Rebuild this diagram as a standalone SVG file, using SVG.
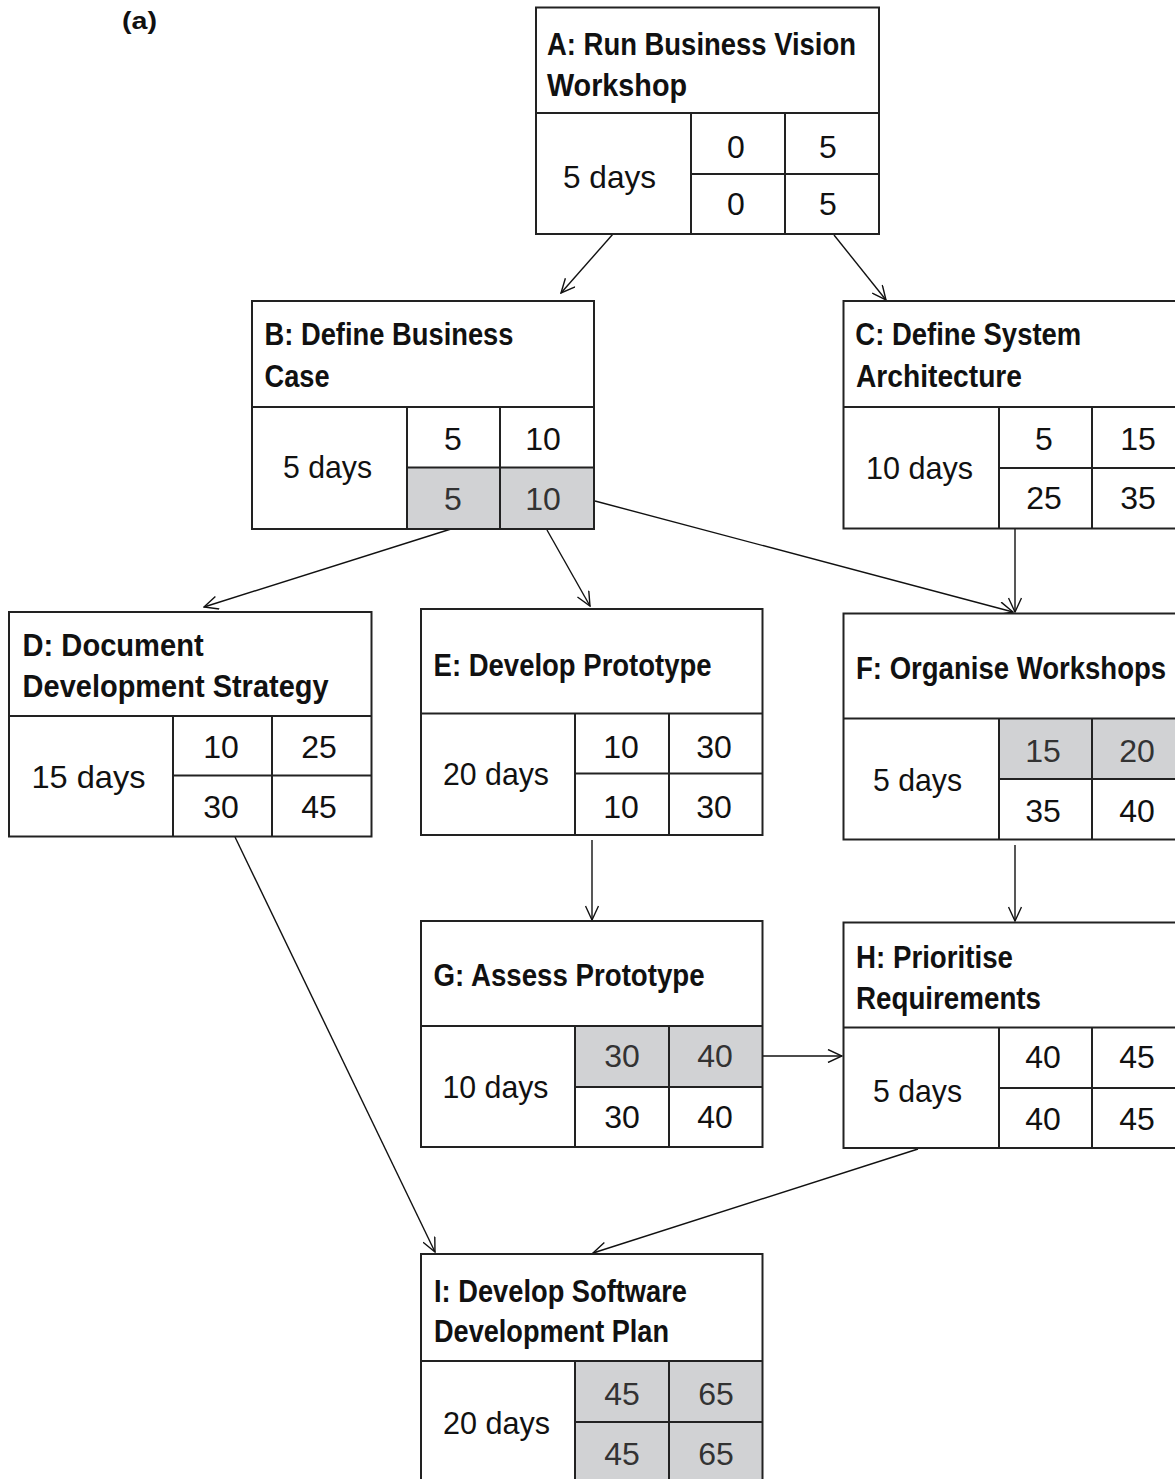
<svg xmlns="http://www.w3.org/2000/svg" width="1175" height="1479" viewBox="0 0 1175 1479">
<style>
.bg{fill:#fff}
.gr{fill:#d1d2d4}
.ol{fill:none;stroke:#222;stroke-width:2}
.t{font-family:"Liberation Sans",Arial,sans-serif;font-weight:bold;font-size:32px;fill:#111}
.d{font-family:"Liberation Sans",Arial,sans-serif;font-size:32px;fill:#111}
.n{font-family:"Liberation Sans",Arial,sans-serif;font-size:32px;fill:#111;text-anchor:middle}
.ng{fill:#333}
.c{fill:none;stroke:#111;stroke-width:1.4;marker-end:url(#arr)}
</style>
<defs>
<marker id="arr" viewBox="0 0 16 14" refX="15" refY="7" markerWidth="16" markerHeight="14" markerUnits="userSpaceOnUse" orient="auto">
<path d="M1,0.5 L15,7 L1,13.5" fill="none" stroke="#111" stroke-width="1.4"/>
</marker>
</defs>
<rect x="0" y="0" width="1175" height="1479" fill="#fff"/>
<text x="122" y="29" class="t" style="font-size:24px" textLength="35" lengthAdjust="spacingAndGlyphs">(a)</text>

<g id="connectors">
<line class="c" x1="613" y1="234" x2="561" y2="293"/>
<line class="c" x1="834" y1="235" x2="886" y2="300"/>
<line class="c" x1="451" y1="529" x2="204" y2="607"/>
<line class="c" x1="547" y1="530" x2="590" y2="606"/>
<line class="c" x1="595" y1="501" x2="1013" y2="612"/>
<line class="c" x1="1015" y1="528" x2="1015" y2="612"/>
<line class="c" x1="235" y1="837" x2="435" y2="1252"/>
<line class="c" x1="592" y1="840" x2="592" y2="920"/>
<line class="c" x1="1015" y1="845" x2="1015" y2="921"/>
<line class="c" x1="763" y1="1056" x2="842" y2="1056"/>
<line class="c" x1="918" y1="1149" x2="593" y2="1253"/>
</g>

<g id="nodeA">
<rect class="bg" x="536" y="7.5" width="343" height="226.5"/>
<rect class="ol" x="536" y="7.5" width="343" height="226.5"/>
<path class="ol" d="M536,113 H879 M691,113 V234 M785,113 V234 M691,174 H879"/>
<text class="t" x="547" y="55" textLength="309" lengthAdjust="spacingAndGlyphs">A: Run Business Vision</text>
<text class="t" x="547" y="96" textLength="140" lengthAdjust="spacingAndGlyphs">Workshop</text>
<text class="d" x="563" y="188" textLength="93" lengthAdjust="spacingAndGlyphs">5 days</text>
<text class="n" x="736" y="158">0</text>
<text class="n" x="828" y="158">5</text>
<text class="n" x="736" y="215">0</text>
<text class="n" x="828" y="215">5</text>
</g>

<g id="nodeB">
<rect class="bg" x="252" y="301" width="342" height="228"/>
<rect class="gr" x="407" y="467.5" width="187" height="61.5"/>
<rect class="ol" x="252" y="301" width="342" height="228"/>
<path class="ol" d="M252,407 H594 M407,407 V529 M500,407 V529 M407,467.5 H594"/>
<text class="t" x="264.5" y="345" textLength="249" lengthAdjust="spacingAndGlyphs">B: Define Business</text>
<text class="t" x="264.5" y="387" textLength="65" lengthAdjust="spacingAndGlyphs">Case</text>
<text class="d" x="283" y="478" textLength="89" lengthAdjust="spacingAndGlyphs">5 days</text>
<text class="n" x="453" y="450">5</text>
<text class="n" x="543" y="450">10</text>
<text class="n ng" x="453" y="510">5</text>
<text class="n ng" x="543" y="510">10</text>
</g>

<g id="nodeC">
<rect class="bg" x="843.5" y="301" width="341.5" height="227.5"/>
<rect class="ol" x="843.5" y="301" width="341.5" height="227.5"/>
<path class="ol" d="M843.5,407 H1185 M999,407 V528.5 M1092,407 V528.5 M999,468 H1185"/>
<text class="t" x="855.3" y="345" textLength="226" lengthAdjust="spacingAndGlyphs">C: Define System</text>
<text class="t" x="856" y="387" textLength="166" lengthAdjust="spacingAndGlyphs">Architecture</text>
<text class="d" x="866" y="479" textLength="107" lengthAdjust="spacingAndGlyphs">10 days</text>
<text class="n" x="1044" y="450">5</text>
<text class="n" x="1138" y="450">15</text>
<text class="n" x="1044" y="509">25</text>
<text class="n" x="1138" y="509">35</text>
</g>

<g id="nodeD">
<rect class="bg" x="9" y="612" width="362.5" height="224.5"/>
<rect class="ol" x="9" y="612" width="362.5" height="224.5"/>
<path class="ol" d="M9,716 H371.5 M173,716 V836.5 M272,716 V836.5 M173,775.5 H371.5"/>
<text class="t" x="22.6" y="656" textLength="181" lengthAdjust="spacingAndGlyphs">D: Document</text>
<text class="t" x="22.6" y="697" textLength="306" lengthAdjust="spacingAndGlyphs">Development Strategy</text>
<text class="d" x="31.5" y="788" textLength="114" lengthAdjust="spacingAndGlyphs">15 days</text>
<text class="n" x="221" y="758">10</text>
<text class="n" x="319" y="758">25</text>
<text class="n" x="221" y="818">30</text>
<text class="n" x="319" y="818">45</text>
</g>

<g id="nodeE">
<rect class="bg" x="421" y="609" width="341.5" height="226"/>
<rect class="ol" x="421" y="609" width="341.5" height="226"/>
<path class="ol" d="M421,713.5 H762.5 M575,713.5 V835 M669,713.5 V835 M575,773.5 H762.5"/>
<text class="t" x="433.6" y="676" textLength="278" lengthAdjust="spacingAndGlyphs">E: Develop Prototype</text>
<text class="d" x="443" y="785" textLength="106" lengthAdjust="spacingAndGlyphs">20 days</text>
<text class="n" x="621" y="758">10</text>
<text class="n" x="714" y="758">30</text>
<text class="n" x="621" y="818">10</text>
<text class="n" x="714" y="818">30</text>
</g>

<g id="nodeF">
<rect class="bg" x="843.5" y="613.5" width="341.5" height="226"/>
<rect class="gr" x="999" y="718.5" width="186" height="60.5"/>
<rect class="ol" x="843.5" y="613.5" width="341.5" height="226"/>
<path class="ol" d="M843.5,718.5 H1185 M999,718.5 V839.5 M1092,718.5 V839.5 M999,779 H1185"/>
<text class="t" transform="translate(856,679) scale(0.861,1)" x="0" y="0">F: Organise Workshops</text>
<text class="d" x="873" y="791" textLength="89" lengthAdjust="spacingAndGlyphs">5 days</text>
<text class="n ng" x="1043" y="762">15</text>
<text class="n ng" x="1137" y="762">20</text>
<text class="n" x="1043" y="822">35</text>
<text class="n" x="1137" y="822">40</text>
</g>

<g id="nodeG">
<rect class="bg" x="421" y="921" width="341.5" height="226"/>
<rect class="gr" x="575" y="1026" width="187.5" height="61"/>
<rect class="ol" x="421" y="921" width="341.5" height="226"/>
<path class="ol" d="M421,1026 H762.5 M575,1026 V1147 M669,1026 V1147 M575,1087 H762.5"/>
<text class="t" x="433.6" y="986" textLength="271" lengthAdjust="spacingAndGlyphs">G: Assess Prototype</text>
<text class="d" x="442.5" y="1098" textLength="106" lengthAdjust="spacingAndGlyphs">10 days</text>
<text class="n ng" x="622" y="1067">30</text>
<text class="n ng" x="715" y="1067">40</text>
<text class="n" x="622" y="1128">30</text>
<text class="n" x="715" y="1128">40</text>
</g>

<g id="nodeH">
<rect class="bg" x="843.5" y="922.5" width="341.5" height="225.5"/>
<rect class="ol" x="843.5" y="922.5" width="341.5" height="225.5"/>
<path class="ol" d="M843.5,1027.5 H1185 M999,1027.5 V1148 M1092,1027.5 V1148 M999,1088 H1185"/>
<text class="t" x="856" y="968" textLength="157" lengthAdjust="spacingAndGlyphs">H: Prioritise</text>
<text class="t" x="856" y="1009" textLength="185" lengthAdjust="spacingAndGlyphs">Requirements</text>
<text class="d" x="873" y="1102" textLength="89" lengthAdjust="spacingAndGlyphs">5 days</text>
<text class="n" x="1043" y="1068">40</text>
<text class="n" x="1137" y="1068">45</text>
<text class="n" x="1043" y="1130">40</text>
<text class="n" x="1137" y="1130">45</text>
</g>

<g id="nodeI">
<rect class="bg" x="421" y="1254" width="341.5" height="229"/>
<rect class="gr" x="575" y="1361" width="187.5" height="122"/>
<rect class="ol" x="421" y="1254" width="341.5" height="229"/>
<path class="ol" d="M421,1361 H762.5 M575,1361 V1483 M669,1361 V1483 M575,1422 H762.5"/>
<text class="t" x="434" y="1302" textLength="253" lengthAdjust="spacingAndGlyphs">I: Develop Software</text>
<text class="t" x="434" y="1342" textLength="235" lengthAdjust="spacingAndGlyphs">Development Plan</text>
<text class="d" x="443" y="1434" textLength="107" lengthAdjust="spacingAndGlyphs">20 days</text>
<text class="n ng" x="622" y="1405">45</text>
<text class="n ng" x="716" y="1405">65</text>
<text class="n ng" x="622" y="1465">45</text>
<text class="n ng" x="716" y="1465">65</text>
</g>
</svg>
